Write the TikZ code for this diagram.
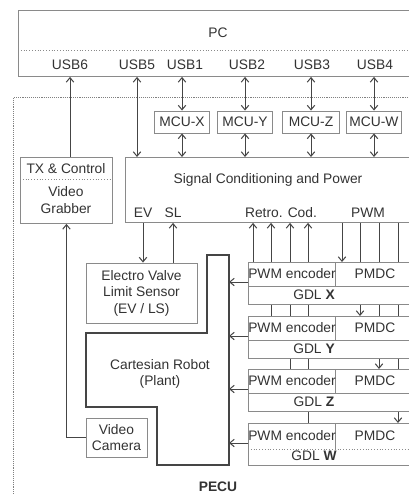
\documentclass[tikz,border=0pt]{standalone}
\usepackage{fontspec}
\setmainfont{Liberation Sans}
\usepackage{xcolor}
\usetikzlibrary{arrows.meta, positioning, calc}
\definecolor{wirecol}{HTML}{454545}
\definecolor{edgecol}{HTML}{8A8A8A}
\definecolor{inkcol}{HTML}{333333}

\begin{document}
\begin{tikzpicture}[
  x=1pt, y=-1pt,
  every node/.style={font=\fontsize{13.8}{16.5}\selectfont, text=inkcol, inner sep=0pt, align=center},
  arrow/.style={-{Straight Barb[length=4.5pt, width=7.5pt]}, draw=wirecol, line width=1pt},
  dblarrow/.style={{Straight Barb[length=4.5pt, width=7.5pt]}-{Straight Barb[length=4.5pt, width=7.5pt]}, draw=wirecol, line width=1pt},
  block/.style={draw=edgecol, fill=white, line width=0.9pt, rectangle},
  gdl_block/.style={block, anchor=north west, minimum width=200, minimum height=42},
  edge_line/.style={draw=edgecol, line width=0.9pt},
  divider/.style={draw=edgecol, line width=0.8pt, dotted},
  plant_line/.style={draw=wirecol, line width=1.7pt}
]
  \useasboundingbox (0,0) rectangle (409,495);
  \fill[white] (0,0) rectangle (409,495);
  \clip (0,0) rectangle (409,495);

  % PECU boundary
  \node (pecu) [draw=gray, densely dotted, line width=0.9pt, anchor=north west, minimum width=440, minimum height=440] at (13,97) {};
  \node (pecu_lbl) at (218,487) {\textbf{PECU}};

  % PC and its USB ports
  \node (pc) [block, anchor=north west, minimum width=430, minimum height=66] at (18,10) {};
  \draw[divider] ([yshift=-40pt]pc.north west) -- ([yshift=-40pt]pc.north east);
  \node (pc_lbl) at (218,33) {PC};
  \node (usb6) at (70,65) {USB6};
  \node (usb5) at (137,65) {USB5};
  \node (usb1) at (185,65) {USB1};
  \node (usb2) at (247,65) {USB2};
  \node (usb3) at (312,65) {USB3};
  \node (usb4) at (375,65) {USB4};

  % MCUs
  \node (mcu_x) [block, minimum width=55, minimum height=22] at (182,122) {MCU-X};
  \node (mcu_y) [block, minimum width=55, minimum height=22] at (245,122) {MCU-Y};
  \node (mcu_z) [block, minimum width=57, minimum height=22] at (311,122) {MCU-Z};
  \node (mcu_w) [block, minimum width=55, minimum height=22] at (374,122) {MCU-W};

  % Signal conditioning
  \node (sig) [block, anchor=north west, minimum width=320, minimum height=65] at (125,157) {};
  \node (sig_lbl) at (268,180) {Signal Conditioning and Power};
  \node (ev) at (143,213) {EV};
  \node (sl) at (173,213) {SL};
  \node (retro) at (281,213) {Retro. Cod.};
  \node (pwm) at (368,213) {PWM};

  % TX & Control / Video Grabber
  \node (tx) [block, anchor=north west, minimum width=92, minimum height=66] at (20,157) {};
  \draw[divider] ([yshift=-22pt]tx.north west) -- ([yshift=-22pt]tx.north east);
  \node (tx_lbl) at (66,169) {TX \& Control};
  \node (grab_lbl) at (66,200) {Video\\Grabber};

  % EV / LS, robot, camera
  \node (evls) [block, minimum width=111, minimum height=60] at (141.5,293) {Electro Valve\\Limit Sensor\\(EV / LS)};
  \draw[plant_line] (207,255) -- (229,255) -- (229,465) -- (157,465) -- (157,407) -- (86,407) -- (86,333) -- (207,333) -- cycle;
  \node (robot) at (160,374) {Cartesian Robot\\(Plant)};
  \node (cam) [block, minimum width=61, minimum height=39] at (116.5,437.5) {Video\\Camera};

  % USB links
  \draw[arrow] (tx.north -| usb6) -- (pc.south -| usb6);
  \draw[dblarrow] (pc.south -| usb5) -- (sig.north -| usb5);
  \draw[dblarrow] (pc.south -| mcu_x) -- (mcu_x.north);
  \draw[dblarrow] (pc.south -| mcu_y) -- (mcu_y.north);
  \draw[dblarrow] (pc.south -| mcu_z) -- (mcu_z.north);
  \draw[dblarrow] (pc.south -| mcu_w) -- (mcu_w.north);
  \draw[dblarrow] (mcu_x.south) -- (sig.north -| mcu_x);
  \draw[dblarrow] (mcu_y.south) -- (sig.north -| mcu_y);
  \draw[dblarrow] (mcu_z.south) -- (sig.north -| mcu_z);
  \draw[dblarrow] (mcu_w.south) -- (sig.north -| mcu_w);

  \draw[arrow] (sig.south -| ev) -- (evls.north -| ev);
  \draw[arrow] (evls.north -| sl) -- (sig.south -| sl);
  \draw[arrow] (cam.west) -| (tx.south);

  % encoder and PWM wires (behind the GDL blocks)
  \coordinate (cod_x) at (253,262);
  \coordinate (cod_y) at (271,316);
  \coordinate (cod_z) at (290,369);
  \coordinate (cod_w) at (308,423);
  \coordinate (drv_x) at (342,262);
  \coordinate (drv_y) at (360,316);
  \coordinate (drv_z) at (379,369);
  \coordinate (drv_w) at (398,423);
  \draw[arrow] (cod_x) -- (sig.south -| cod_x);
  \draw[arrow] (cod_y) -- (sig.south -| cod_y);
  \draw[arrow] (cod_z) -- (sig.south -| cod_z);
  \draw[arrow] (cod_w) -- (sig.south -| cod_w);
  \draw[arrow] (sig.south -| drv_x) -- (drv_x);
  \draw[arrow] (sig.south -| drv_y) -- (drv_y);
  \draw[arrow] (sig.south -| drv_z) -- (drv_z);
  \draw[arrow] (sig.south -| drv_w) -- (drv_w);

  % GDL X
  \node (blk_x) [gdl_block] at (248,262) {};
  \draw[edge_line] ([yshift=-24pt]blk_x.north west) -- ([yshift=-24pt]blk_x.north east);
  \draw[edge_line] ([xshift=87pt]blk_x.north west) -- ++(0,24);
  \node (enc_x) at (292,274) {PWM encoder};
  \node (pmdc_x) at (375,274) {PMDC};
  \node (gdl_x) at (314,295) {GDL \textbf{X}};

  % GDL Y
  \node (blk_y) [gdl_block] at (248,316) {};
  \draw[edge_line] ([yshift=-24pt]blk_y.north west) -- ([yshift=-24pt]blk_y.north east);
  \draw[edge_line] ([xshift=87pt]blk_y.north west) -- ++(0,24);
  \node (enc_y) at (292,328) {PWM encoder};
  \node (pmdc_y) at (375,328) {PMDC};
  \node (gdl_y) at (314,349) {GDL \textbf{Y}};

  % GDL Z
  \node (blk_z) [gdl_block] at (248,369) {};
  \draw[edge_line] ([yshift=-24pt]blk_z.north west) -- ([yshift=-24pt]blk_z.north east);
  \draw[edge_line] ([xshift=87pt]blk_z.north west) -- ++(0,24);
  \node (enc_z) at (292,381) {PWM encoder};
  \node (pmdc_z) at (375,381) {PMDC};
  \node (gdl_z) at (314,402) {GDL \textbf{Z}};

  % GDL W
  \node (blk_w) [gdl_block] at (248,423) {};
  \draw[divider] ([yshift=-26pt]blk_w.north west) -- ([yshift=-26pt]blk_w.north east);
  \draw[edge_line] ([xshift=87pt]blk_w.north west) -- ++(0,26);
  \node (enc_w) at (292,436) {PWM encoder};
  \node (pmdc_w) at (375,436) {PMDC};
  \node (gdl_w) at (314,456) {GDL \textbf{W}};

  % GDL outputs to the plant
  \coordinate (plant_x) at (229,282);
  \coordinate (plant_y) at (229,336);
  \coordinate (plant_z) at (229,389);
  \coordinate (plant_w) at (229,443);
  \draw[arrow] (plant_x -| blk_x.west) -- (plant_x);
  \draw[arrow] (plant_y -| blk_y.west) -- (plant_y);
  \draw[arrow] (plant_z -| blk_z.west) -- (plant_z);
  \draw[arrow] (plant_w -| blk_w.west) -- (plant_w);

\end{tikzpicture}
\end{document}
